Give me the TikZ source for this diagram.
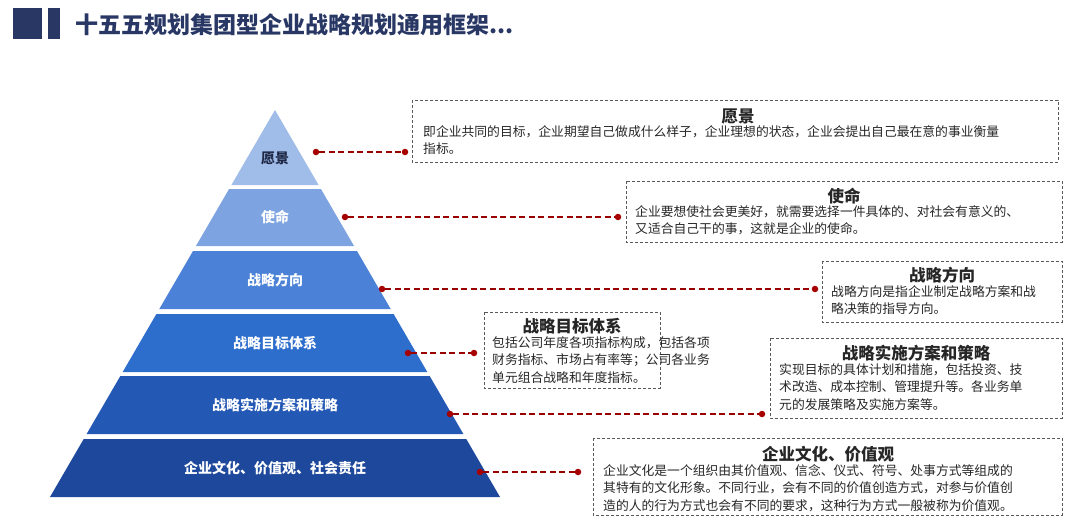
\documentclass[tikz,border=0pt]{standalone}
\usepackage{fontspec}
\setmainfont{Noto Sans CJK SC}
\definecolor{c1}{RGB}{160,188,232}
\definecolor{c2}{RGB}{125,163,225}
\definecolor{c3}{RGB}{75,130,215}
\definecolor{c4}{RGB}{45,110,205}
\definecolor{c5}{RGB}{35,88,180}
\definecolor{c6}{RGB}{30,72,155}
\definecolor{dk}{RGB}{30,40,70}
\definecolor{hd}{RGB}{40,55,100}
\begin{document}
\begin{tikzpicture}[x=1pt,y=-1pt,
  box/.style={draw=black!65,densely dashed,line width=0.7pt},
  con/.style={draw=red!60!black,line width=1.2pt,dash pattern=on 6pt off 3.5pt},
  dot/.style={circle,fill=red!65!black,inner sep=0pt,minimum size=6.5pt},
  lab/.style={font=\bfseries\fontsize{14}{16}\selectfont},
  ttl/.style={font=\bfseries\fontsize{16.5}{18}\selectfont,text=black!85},
  txt/.style={font=\fontsize{12.8}{17.8}\selectfont,text=black!85,align=left,anchor=north west,inner sep=0pt}]
\useasboundingbox (0,0) rectangle (1080,522);
% header
\fill[hd] (13,8) rectangle (42,39);
\fill[hd] (48,8) rectangle (60,39);
\node[anchor=west,font=\bfseries\fontsize{23}{26}\selectfont,text=hd] (title) at (72,25) {十五五规划集团型企业战略规划通用框架...};
% pyramid
\newcommand\lay[7]{%
  \pgfmathsetmacro\wa{(#1-110)*0.5814}\pgfmathsetmacro\wb{(#2-110)*0.5814}
  \fill[#3] (275-\wa,#1) -- (275+\wa,#1) -- (275+\wb,#2) -- (275-\wb,#2) -- cycle;
  \node[lab,text=#4] (#5) at (275,#7) {#6};}
\lay{110}{185}{c1}{dk}{l1}{愿景}{158}
\lay{189}{246}{c2}{white}{l2}{使命}{217}
\lay{251}{309}{c3}{white}{l3}{战略方向}{280}
\lay{314}{372}{c4}{white}{l4}{战略目标体系}{343}
\lay{376}{434}{c5}{white}{l5}{战略实施方案和策略}{405}
\lay{439}{497}{c6}{white}{l6}{企业文化、价值观、社会责任}{468}
% boxes
\draw[box] (412,100) rectangle (1058,162);
\node[ttl] (t1) at (738,117) {愿景};
\node[txt] (x1) at (423,125) {即企业共同的目标，企业期望自己做成什么样子，企业理想的状态，企业会提出自己最在意的事业衡量\\指标。};
\draw[box] (626,181) rectangle (1062,242);
\node[ttl] (t2) at (844,196) {使命};
\node[txt] (x2) at (635,205) {企业要想使社会更美好，就需要选择一件具体的、对社会有意义的、\\又适合自己干的事，这就是企业的使命。};
\draw[box] (822,261) rectangle (1062,322);
\node[ttl] (t3) at (942,275) {战略方向};
\node[txt] (x3) at (831,285) {战略方向是指企业制定战略方案和战\\略决策的指导方向。};
\draw[box] (484,312) rectangle (660,388);
\node[ttl] (t4) at (572,326) {战略目标体系};
\node[txt] (x4) at (492,336) {包括公司年度各项指标构成，包括各项\\财务指标、市场占有率等；公司各业务\\单元组合战略和年度指标。};
\draw[box] (770,338) rectangle (1062,418);
\node[ttl] (t5) at (916,353) {战略实施方案和策略};
\node[txt] (x5) at (779,363) {实现目标的具体计划和措施，包括投资、技\\术改造、成本控制、管理提升等。各业务单\\元的发展策略及实施方案等。};
\draw[box] (593,438) rectangle (1062,515);
\node[ttl] (t6) at (828,454) {企业文化、价值观};
\node[txt] (x6) at (603,464) {企业文化是一个组织由其价值观、信念、仪式、符号、处事方式等组成的\\其特有的文化形象。不同行业，会有不同的价值创造方式，对参与价值创\\造的人的行为方式也会有不同的要求，这种行为方式一般被称为价值观。};
% connectors
\foreach \n/\a/\b/\y in {1/316/405/152, 2/345/618/217, 3/382/815/289, 4/408/474/353, 5/450/762/414, 6/480/578/472}{
  \node[dot] (a\n) at (\a,\y) {};
  \node[dot] (b\n) at (\b,\y) {};
  \draw[con] (a\n) -- (b\n);
}
\end{tikzpicture}
\end{document}
